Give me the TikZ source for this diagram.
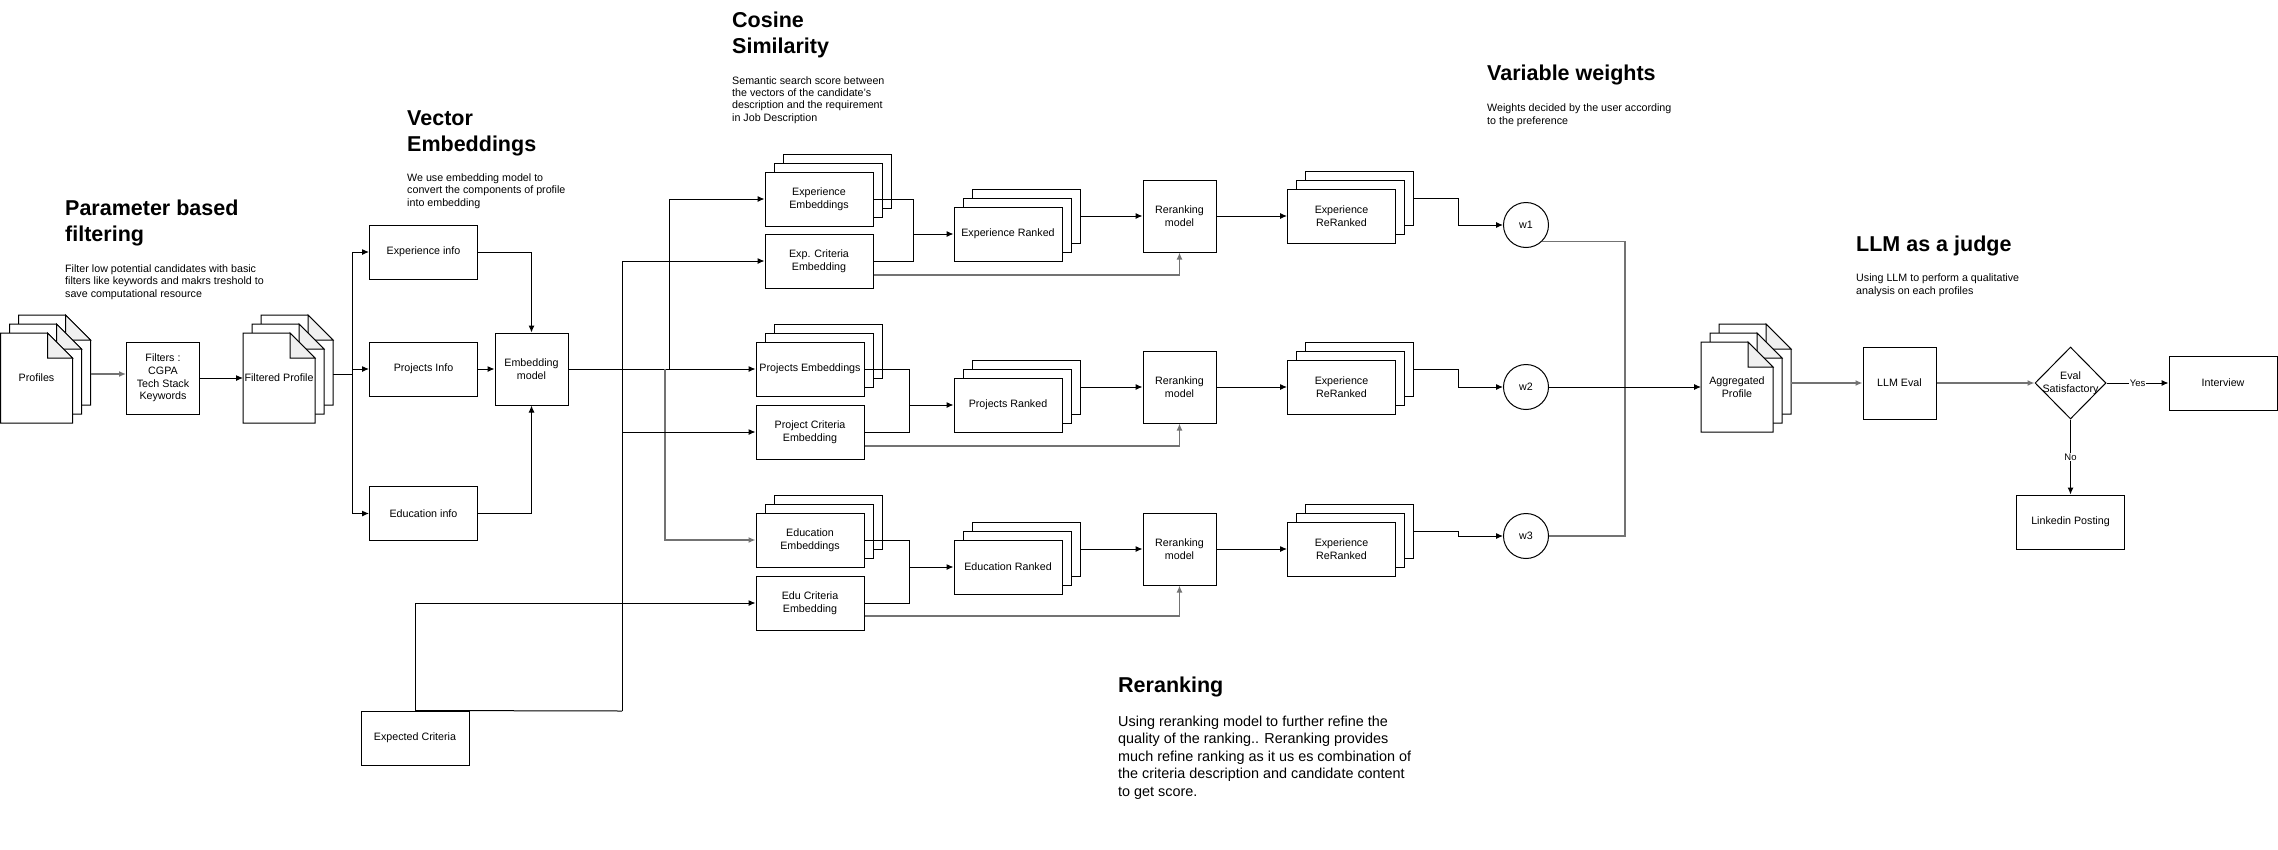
\documentclass[tikz,border=0pt]{standalone}
\usepackage{fontspec}
\setmainfont{Liberation Sans}
\usetikzlibrary{shapes.geometric, arrows.meta}

% three stacked boxes, front one carries the text
\newcommand{\boxstack}[4]{%
  \node[box] (#1-3) at ({#2+18},{#3-18}) {};
  \node[box] (#1-2) at ({#2+9},{#3-9}) {};
  \node[box] (#1) at (#2,#3) {#4};}

% three stacked pages with folded corner
\newcommand{\docstack}[4]{%
  \foreach \k in {2,1,0}{
    \draw[page] ({#2-36+9*\k},{#3-45-9*\k}) -- ++(47,0) -- ++(25,25) -- ++(0,65) -- ++(-72,0) -- cycle;
    \draw[page, fill=gray!12] ({#2+11+9*\k},{#3-45-9*\k}) -- ++(0,25) -- ++(25,0) -- cycle;
  }
  \node[doctext] (#1) at (#2,#3) {#4};
  \coordinate (#1-in) at ({#2-36},{#3});
  \coordinate (#1-out) at ({#2+54},{#3-4});}

\begin{document}
\begin{tikzpicture}[x=1pt, y=-1pt,
    every node/.style={font=\fontsize{10.7}{12.8}\selectfont},
    box/.style={draw, line width=1pt, fill=white, minimum width=108pt, minimum height=54pt, align=center, inner sep=1pt},
    sqbox/.style={box, minimum width=73pt, minimum height=72pt},
    wbox/.style={draw, circle, line width=1pt, fill=white, minimum size=45pt, inner sep=0pt},
    page/.style={draw, line width=1pt, fill=white},
    doctext/.style={align=center, inner sep=0pt},
    head/.style={anchor=base west, align=left, inner sep=0pt, font=\fontsize{21.5}{26}\selectfont\bfseries},
    desc/.style={anchor=base west, align=left, inner sep=0pt, font=\fontsize{10.7}{12.2}\selectfont},
    conn/.style={line width=1pt, -{Latex[length=7pt, width=6pt]}},
    soft/.style={draw=black!55, line width=1.4pt},
    lbl/.style={fill=white, inner sep=1pt, font=\fontsize{9.5}{11}\selectfont}]

    \useasboundingbox (0,0) rectangle (2278,849);

    % headings and notes (placed at the baseline of their last line)
    \node[head] (h-filter) at (65,241) {Parameter based\\filtering};
    \node[desc] (d-filter) at (65,297) {Filter low potential candidates with basic\\filters like keywords and makrs treshold to\\save computational resource};
    \node[head] (h-embed) at (407,151) {Vector\\Embeddings};
    \node[desc] (d-embed) at (407,206) {We use embedding model to\\convert the components of profile\\into embedding};
    \node[head] (h-cosine) at (732,53) {Cosine\\Similarity};
    \node[desc] (d-cosine) at (732,121) {Semantic search score between\\the vectors of the candidate's\\description and the requirement\\in Job Description};
    \node[head] (h-weights) at (1487,80) {Variable weights};
    \node[desc] (d-weights) at (1487,124) {Weights decided by the user according\\to the preference};
    \node[head] (h-judge) at (1856,251) {LLM as a judge};
    \node[desc] (d-judge) at (1856,294) {Using LLM to perform a qualitative\\analysis on each profiles};
    \node[head] (h-rerank) at (1118,692) {Reranking};
    \node[desc, font=\fontsize{14.4}{17.5}\selectfont] (d-rerank) at (1118,796) {Using reranking model to further refine the\\quality of the ranking.. Reranking provides\\much refine ranking as it us es combination of\\the criteria description and candidate content\\to get score.};

    % filtering
    \docstack{profiles}{36.5}{378}{Profiles}
    \node[sqbox] (filters) at (163,378) {Filters :\\CGPA\\Tech Stack\\Keywords};
    \docstack{filtered}{279}{378}{Filtered Profile}

    % vector embeddings
    \node[box] (expinfo) at (423.5,252) {Experience info};
    \node[box] (projinfo) at (423.5,369) {Projects Info};
    \node[box] (eduinfo) at (423.5,513.5) {Education info};
    \node[sqbox] (embmodel) at (531.5,369) {Embedding\\model};
    \node[box] (expected) at (415,738) {Expected Criteria};

    % cosine similarity
    \boxstack{expemb}{819}{199}{Experience\\Embeddings}
    \node[box] (expcrit) at (819,261) {Exp. Criteria\\Embedding};
    \boxstack{projemb}{810}{369}{Projects Embeddings}
    \node[box] (projcrit) at (810,432) {Project Criteria\\Embedding};
    \boxstack{eduemb}{810}{540}{Education\\Embeddings}
    \node[box] (educrit) at (810,603) {Edu Criteria\\Embedding};

    \boxstack{exprk}{1008}{234}{Experience Ranked}
    \boxstack{projrk}{1008}{405}{Projects Ranked}
    \boxstack{edurk}{1008}{567}{Education Ranked}

    % reranking
    \node[sqbox] (rerank1) at (1179.5,216) {Reranking\\model};
    \node[sqbox] (rerank2) at (1179.5,387) {Reranking\\model};
    \node[sqbox] (rerank3) at (1179.5,549) {Reranking\\model};

    \boxstack{exprr1}{1341.5}{216}{Experience\\ReRanked}
    \boxstack{exprr2}{1341.5}{387}{Experience\\ReRanked}
    \boxstack{exprr3}{1341.5}{549}{Experience\\ReRanked}

    % variable weights
    \node[wbox] (w1) at (1526,225) {w1};
    \node[wbox] (w2) at (1526,387) {w2};
    \node[wbox] (w3) at (1526,536) {w3};

    % llm as a judge
    \docstack{agg}{1737}{387}{Aggregated\\Profile}
    \node[sqbox] (llmeval) at (1899.5,383) {LLM Eval};
    \node[diamond, draw, line width=1pt, minimum width=71pt, minimum height=72pt, inner sep=0pt,
          label={[align=center]center:Eval\\Satisfactory}] (judge) at (2070.5,383) {};
    \node[box] (interview) at (2223,383) {Interview};
    \node[box] (linkedin) at (2070.5,522) {Linkedin Posting};

    % connectors: filtering
    \draw[conn, soft] (profiles-out) -- (profiles-out -| filters.west);
    \draw[conn] (filters.east) -- (filtered-in);
    \coordinate (split) at (352,374);
    \draw[line width=1pt] (filtered-out) -- (split);
    \draw[conn] (split) |- (expinfo.west);
    \draw[conn] (split) |- (eduinfo.west);
    \draw[conn] (split |- projinfo.west) -- (projinfo.west);

    % connectors: embeddings
    \draw[conn] (expinfo.east) -| (embmodel.north);
    \draw[conn] (projinfo.east) -- (embmodel.west);
    \draw[conn] (eduinfo.east) -| (embmodel.south);

    \coordinate (embbus) at (669.5,369);
    \coordinate (edubus) at (665,369);
    \draw[conn] (embmodel.east) -- (projemb.west);
    \draw[conn] (embbus) |- (expemb.west);
    \draw[conn, soft] (edubus) |- (eduemb.west);

    \coordinate (critbus) at (622,711);
    \draw[conn] (expected.north) |- (educrit.west);
    \draw[line width=1pt] (expected.north) -- (critbus);
    \draw[conn] (critbus) |- (expcrit.west);
    \draw[conn] (critbus |- projcrit.west) -- (projcrit.west);

    % connectors: similarity to ranking
    \coordinate (mergeA) at (913,234);
    \coordinate (mergeB) at (909,405);
    \coordinate (mergeC) at (909,567);
    \draw[line width=1pt] (expemb.east) -| (mergeA) (expcrit.east) -| (mergeA);
    \draw[line width=1pt] (projemb.east) -| (mergeB) (projcrit.east) -| (mergeB);
    \draw[line width=1pt] (eduemb.east) -| (mergeC) (educrit.east) -| (mergeC);
    \draw[conn] (mergeA) -- (exprk.west);
    \draw[conn] (mergeB) -- (projrk.west);
    \draw[conn] (mergeC) -- (edurk.west);

    % connectors: reranking
    \draw[conn] (exprk-3.east) -- (rerank1.west);
    \draw[conn] (projrk-3.east) -- (rerank2.west);
    \draw[conn] (edurk-3.east) -- (rerank3.west);
    \draw[conn, soft] ([yshift=-14pt]expcrit.east) -| (rerank1.south);
    \draw[conn, soft] ([yshift=-14pt]projcrit.east) -| (rerank2.south);
    \draw[conn, soft] ([yshift=-13pt]educrit.east) -| (rerank3.south);
    \draw[conn] (rerank1.east) -- (exprr1.west);
    \draw[conn] (rerank2.east) -- (exprr2.west);
    \draw[conn] (rerank3.east) -- (exprr3.west);

    % connectors: weights
    \draw[conn] (exprr1-3.east) -- ++(44,0) |- (w1.west);
    \draw[conn] (exprr2-3.east) -- ++(44,0) |- (w2.west);
    \draw[conn] (exprr3-3.east) -- ++(44,0) |- (w3.west);
    \coordinate (wbus) at (1625,387);
    \draw[soft] (w1.-45) -| (wbus |- w3.east) -- (w3.east);
    \draw[conn] (w2.east) -- (agg-in);

    % connectors: judge
    \draw[conn, soft] (agg-out) -- (llmeval.west);
    \draw[conn, soft] (llmeval.east) -- (judge.west);
    \draw[conn] (judge.east) -- node[lbl] (yes) {Yes} (interview.west);
    \draw[conn] (judge.south) -- node[lbl] (no) {No} (linkedin.north);

\end{tikzpicture}
\end{document}
